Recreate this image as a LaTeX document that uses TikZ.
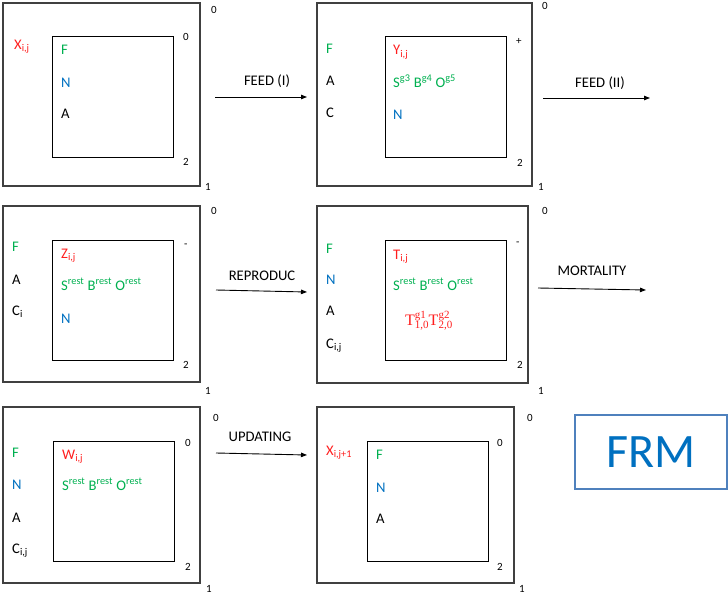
\documentclass[tikz,border=0pt]{standalone}
\usepackage{fontspec}
\setmainfont{Carlito}
\newfontfamily\mserif{Liberation Serif}
\usetikzlibrary{arrows.meta}
\definecolor{cred}{HTML}{FF1E1E}
\definecolor{cgreen}{HTML}{00B050}
\definecolor{cblue}{HTML}{0070C0}
\definecolor{cbord}{HTML}{4F81BD}
\definecolor{cgray}{HTML}{404040}
\newcommand{\sbx}[1]{\textsubscript{#1}}
\newcommand{\spx}[1]{\textsuperscript{#1}}
\newcommand{\tsupsub}[3]{#1\makebox[0pt][l]{\raisebox{7pt}{\fontsize{11}{11}\selectfont #2}}\raisebox{-3.5pt}{\fontsize{11}{11}\selectfont #3}}
\begin{document}
\begin{tikzpicture}[x=1pt,y=-1pt,
  outerbox/.style={draw=cgray,line width=1.3pt,rectangle,inner sep=0pt,outer sep=0pt,anchor=north west},
  innerbox/.style={draw=black,line width=0.9pt,rectangle,inner sep=0pt,outer sep=0pt,anchor=north west},
  txt/.style={font=\fontsize{14.67}{17}\selectfont,anchor=base west,inner sep=0pt},
  num/.style={font=\fontsize{11}{13}\selectfont,anchor=base west,inner sep=0pt},
  lbl/.style={font=\fontsize{14.67}{17}\selectfont,anchor=base,inner sep=0pt},
  arr/.style={-{Triangle[length=6pt,width=4.5pt]},line width=0.9pt},
  R/.style={text=cred},G/.style={text=cgreen},B/.style={text=cblue}]
\useasboundingbox (0,0) rectangle (728,594);

% ---------- Panel 1 ----------
\node[outerbox,minimum width=197pt,minimum height=183pt] (o1) at (3,3) {};
\node[innerbox,minimum width=121pt,minimum height=121pt] (i1) at (52,36) {};
\node[txt,R] (p1x) at (14,49) {X\sbx{i,j}};
\node[txt,G] (p1f) at (61,55) {F};
\node[txt,B] (p1n) at (61,87) {N};
\node[txt] (p1a) at (61,118) {A};
\node[num] (p1n0) at (211,14) {0};
\node[num] (p1i0) at (183,41) {0};
\node[num] (p1i2) at (183,165) {2};
\node[num] (p1n1) at (205,190) {1};

% ---------- Panel 2 ----------
\node[outerbox,minimum width=215pt,minimum height=183pt] (o2) at (317,3) {};
\node[innerbox,minimum width=121pt,minimum height=121pt] (i2) at (385,36) {};
\node[txt,G] (p2f) at (326,53) {F};
\node[txt] (p2a) at (326,85) {A};
\node[txt] (p2c) at (326,117) {C};
\node[txt,R] (p2y) at (393,55) {Y\sbx{i,j}};
\node[txt,G] (p2s) at (393,87) {S\spx{g3} B\spx{g4} O\spx{g5}};
\node[txt,B] (p2n) at (393,119) {N};
\node[num] (p2n0) at (542,10) {0};
\node[num] (p2p) at (516,45) {+};
\node[num] (p2i2) at (517,166) {2};
\node[num] (p2n1) at (538,190) {1};

% ---------- Panel 3 ----------
\node[outerbox,minimum width=197pt,minimum height=176pt] (o3) at (3,206) {};
\node[innerbox,minimum width=121pt,minimum height=120pt] (i3) at (52,240) {};
\node[txt,G] (p3f) at (12,251) {F};
\node[txt] (p3a) at (12,284) {A};
\node[txt] (p3c) at (12,315) {C\sbx{i}};
\node[txt,R] (p3z) at (61,258) {Z\sbx{i,j}};
\node[txt,G] (p3s) at (61,290) {S\spx{rest} B\spx{rest} O\spx{rest}};
\node[txt,B] (p3n) at (61,323) {N};
\node[num] (p3n0) at (211,214) {0};
\node[num] (p3m) at (184,247) {-};
\node[num] (p3i2) at (183,368) {2};
\node[num] (p3n1) at (205,394) {1};

% ---------- Panel 4 ----------
\node[outerbox,minimum width=211pt,minimum height=177pt] (o4) at (317,206) {};
\node[innerbox,minimum width=121pt,minimum height=120pt] (i4) at (385,240) {};
\node[txt,G] (p4f) at (326,253) {F};
\node[txt,B] (p4n) at (326,284) {N};
\node[txt] (p4a) at (326,315) {A};
\node[txt] (p4c) at (326,348) {C\sbx{i,j}};
\node[txt,R] (p4t) at (393,259) {T\sbx{i,j}};
\node[txt,G] (p4s) at (393,290) {S\spx{rest} B\spx{rest} O\spx{rest}};
\node[txt,R,font=\mserif\fontsize{16}{18}\selectfont] (p4tt) at (405,325) {\tsupsub{T}{g1}{1,0}\tsupsub{T}{g2}{2,0}};
\node[num] (p4n0) at (542,214) {0};
\node[num] (p4m) at (516,245) {-};
\node[num] (p4i2) at (517,368) {2};
\node[num] (p4n1) at (538,394) {1};

% ---------- Panel 5 ----------
\node[outerbox,minimum width=197pt,minimum height=176pt] (o5) at (3,407) {};
\node[innerbox,minimum width=121pt,minimum height=120pt] (i5) at (53,441) {};
\node[txt,G] (p5f) at (12,457) {F};
\node[txt,B] (p5n) at (12,489) {N};
\node[txt] (p5a) at (12,522) {A};
\node[txt] (p5c) at (12,553) {C\sbx{i,j}};
\node[txt,R] (p5w) at (62,459) {W\sbx{i,j}};
\node[txt,G] (p5s) at (62,490) {S\spx{rest} B\spx{rest} O\spx{rest}};
\node[num] (p5n0) at (213,421) {0};
\node[num] (p5i0) at (185,446) {0};
\node[num] (p5i2) at (185,570) {2};
\node[num] (p5n1) at (206,592) {1};

% ---------- Panel 6 ----------
\node[outerbox,minimum width=197pt,minimum height=176pt] (o6) at (317,407) {};
\node[innerbox,minimum width=121pt,minimum height=120pt] (i6) at (367,441) {};
\node[txt,R] (p6x) at (326,455) {X\sbx{i,j+1}};
\node[txt,G] (p6f) at (376,459) {F};
\node[txt,B] (p6n) at (376,492) {N};
\node[txt] (p6a) at (376,523) {A};
\node[num] (p6n0) at (527,421) {0};
\node[num] (p6i0) at (497,446) {0};
\node[num] (p6i2) at (497,570) {2};
\node[num] (p6n1) at (519,592) {1};

% ---------- FRM ----------
\node[draw=cbord,line width=1.5pt,rectangle,inner sep=0pt,outer sep=0pt,anchor=north west,
      minimum width=152pt,minimum height=74pt] (frmbox) at (575,415) {};
\node[text=cblue,font=\fontsize{48}{56}\selectfont,inner sep=0pt] (frm) at (frmbox.center) {FRM};

% ---------- Arrows ----------
\node[lbl] (l1) at (267,85) {FEED (I)};
\coordinate (a1s) at (215,97); \coordinate (a1e) at (307,97);
\draw[arr] (a1s) -- (a1e);

\node[lbl] (l2) at (600,87) {FEED (II)};
\coordinate (a2s) at (543,98); \coordinate (a2e) at (650,98);
\draw[arr] (a2s) -- (a2e);

\node[lbl] (l3) at (262,280) {REPRODUC};
\coordinate (a3s) at (216,290); \coordinate (a3e) at (307,292);
\draw[arr] (a3s) -- (a3e);

\node[lbl] (l4) at (592,275) {MORTALITY};
\coordinate (a4s) at (538,288); \coordinate (a4e) at (646,290);
\draw[arr] (a4s) -- (a4e);

\node[lbl] (l5) at (260,441) {UPDATING};
\coordinate (a5s) at (216,453); \coordinate (a5e) at (307,455);
\draw[arr] (a5s) -- (a5e);
\end{tikzpicture}
\end{document}
